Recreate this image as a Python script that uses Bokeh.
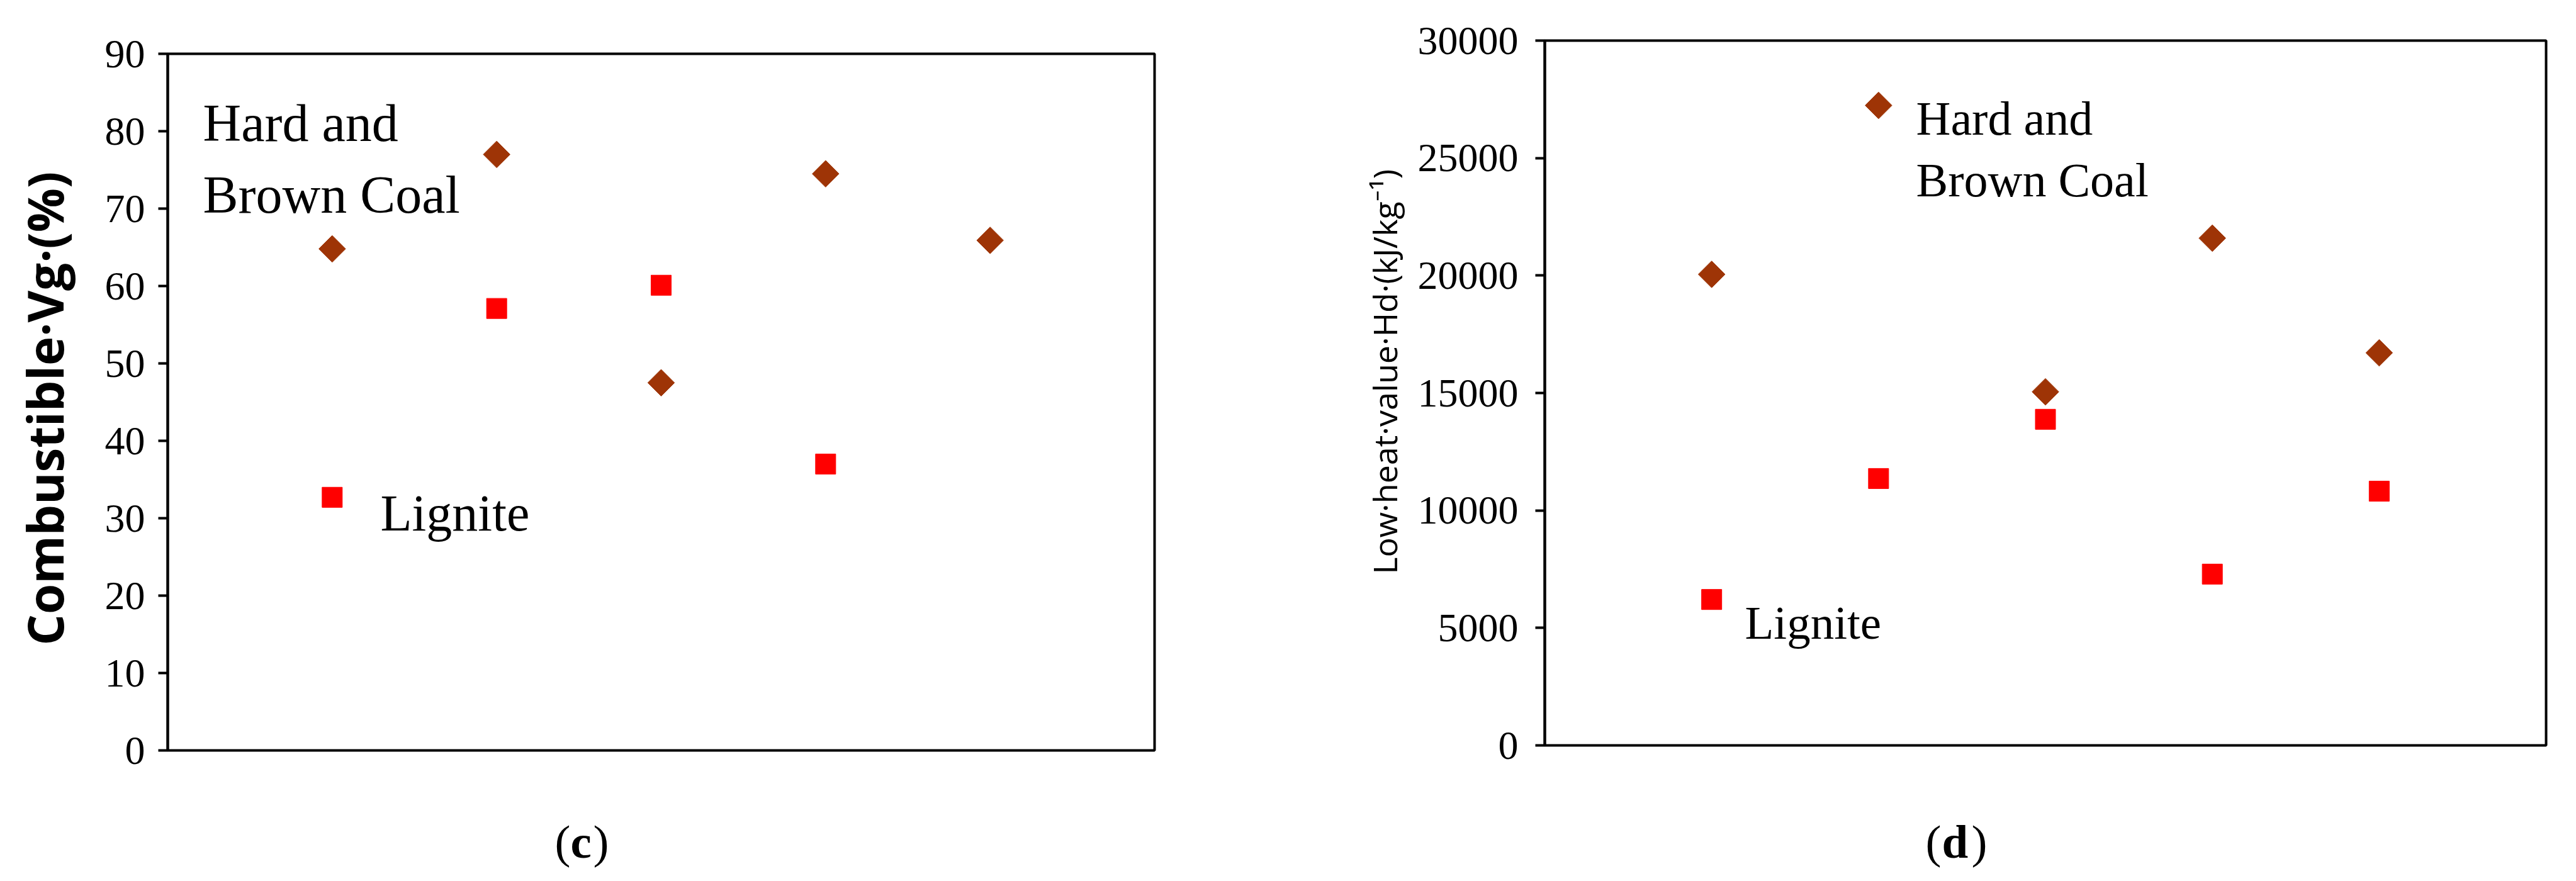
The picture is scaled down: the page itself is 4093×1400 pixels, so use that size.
import math
from bokeh.plotting import figure
from bokeh.layouts import row, column
from bokeh.models import Range1d, FixedTicker, Label, ColumnDataSource, Spacer
from bokeh.embed import file_html
from bokeh.resources import INLINE

# ---------------- data ----------------
samples = [1, 2, 3, 4, 5]

# panel (c): combustible Vg (%)
c_hard_brown = [64.8, 77.0, 47.5, 74.5, 65.9]
c_lignite = [32.7, 57.1, 60.1, 37.0, float("nan")]
c_ticks = [0, 10, 20, 30, 40, 50, 60, 70, 80, 90]

# panel (d): low heat value Hd (kJ/kg)
d_hard_brown = [20050, 27240, 15050, 21590, 16710]
d_lignite = [6210, 11360, 13880, 7290, 10820]
d_ticks = [0, 5000, 10000, 15000, 20000, 25000, 30000]

BROWN = "#9E3406"
RED = "#FF0000"
SERIF = "Liberation Serif"
NBSP = "\u00a0"


def make_panel(hard, lig, ticks, ylabel, ylabel_font, ylabel_size, ylabel_style,
               fw, fh, bl, bt, bb, br, tick_standoff, label_standoff, texts):
    ymax = ticks[-1]
    p = figure(frame_width=fw, frame_height=fh, x_range=Range1d(0, 6),
               y_range=Range1d(0, ymax), output_backend="svg",
               toolbar_location=None, min_border_left=bl, min_border_top=bt,
               min_border_bottom=bb, min_border_right=br)
    p.xaxis.visible = False
    p.xgrid.visible = False
    p.ygrid.visible = False
    p.outline_line_color = "black"
    p.outline_line_width = 4
    p.outline_line_alpha = 1
    p.background_fill_color = "white"
    p.border_fill_color = "white"

    ax = p.yaxis[0]
    ax.ticker = FixedTicker(ticks=ticks)
    ax.axis_line_width = 4
    ax.axis_line_color = "black"
    ax.major_tick_out = 15
    ax.major_tick_in = 0
    ax.major_tick_line_width = 4
    ax.minor_tick_line_color = None
    ax.major_label_text_font = SERIF
    ax.major_label_text_font_size = "64px"
    ax.major_label_text_color = "black"
    ax.major_label_standoff = tick_standoff
    ax.axis_label = ylabel
    ax.axis_label_text_font = ylabel_font
    ax.axis_label_text_font_size = ylabel_size
    ax.axis_label_text_font_style = ylabel_style
    ax.axis_label_text_color = "black"
    ax.axis_label_standoff = label_standoff

    src = ColumnDataSource(dict(x=samples, hard=hard, lig=lig))
    p.scatter("x", "lig", source=src, marker="square", size=32,
              fill_color=RED, line_color=RED)
    p.scatter("x", "hard", source=src, marker="square", size=30,
              angle=math.pi / 4, fill_color=BROWN, line_color=BROWN)

    def dx(px):
        return px / fw * 6

    def dy(py):
        return (fh - py) / fh * ymax

    for (txt, px, py, size, style) in texts:
        p.add_layout(Label(x=dx(px), y=dy(py), text=txt, text_font=SERIF,
                           text_font_size=size, text_font_style=style,
                           text_baseline="alphabetic", text_align="left",
                           text_color="black"))
    return p


def make_caption(fw, fh, bl, br, parts):
    # caption strip sharing the panel's left/right borders; x in px from frame left,
    # y in px from the strip bottom
    c = figure(frame_width=fw, frame_height=fh, x_range=Range1d(0, fw),
               y_range=Range1d(0, fh), output_backend="svg",
               toolbar_location=None, x_axis_type=None, y_axis_type=None,
               min_border_left=bl, min_border_right=br,
               min_border_top=0, min_border_bottom=0)
    c.xgrid.visible = False
    c.ygrid.visible = False
    c.outline_line_color = None
    c.background_fill_color = "white"
    c.border_fill_color = "white"
    for (txt, px, py, style) in parts:
        c.add_layout(Label(x=px, y=py, text=txt, text_font=SERIF,
                           text_font_size="75px", text_font_style=style,
                           text_baseline="alphabetic", text_align="left",
                           text_color="black"))
    return c


p1 = make_panel(
    c_hard_brown, c_lignite, c_ticks, "Combustible·Vg·(%)" + NBSP, "Open Sans", "78px", "bold",
    fw=1568, fh=1107, bl=266, bt=64, bb=40, br=266,
    tick_standoff=21, label_standoff=40,
    texts=[("Hard and", 56, 110, "84px", "normal"),
           ("Brown Coal", 56, 224, "84px", "normal"),
           ("Lignite", 338, 730, "82px", "normal")],
)

p2 = make_panel(
    d_hard_brown, d_lignite, d_ticks, NBSP * 5 + "Low·heat·value·Hd·(kJ/kg⁻¹)", "Open Sans", "52px", "normal",
    fw=1591, fh=1120, bl=354, bt=64, bb=40, br=32,
    tick_standoff=27, label_standoff=15,
    texts=[("Hard and", 590, 123, "76px", "normal"),
           ("Brown Coal", 590, 221, "76px", "normal"),
           ("Lignite", 318, 925, "75px", "normal")],
)

# strips end at page y 1388; caption baseline at page y 1345 -> 43 px above strip bottom
cap1 = make_caption(1568, 148, 266, 266, [("(", 615, 43, "normal"),
                                          ("c", 640, 43, "bold"),
                                          (")", 676, 43, "normal")])
cap2 = make_caption(1591, 156, 354, 32, [("(", 605, 43, "normal"),
                                         ("d", 631, 43, "bold"),
                                         (")", 678, 43, "normal")])

layout = row(column(Spacer(width=2100, height=21), p1, cap1), column(p2, cap2))
open("out.html", "w").write(file_html(layout, INLINE))
